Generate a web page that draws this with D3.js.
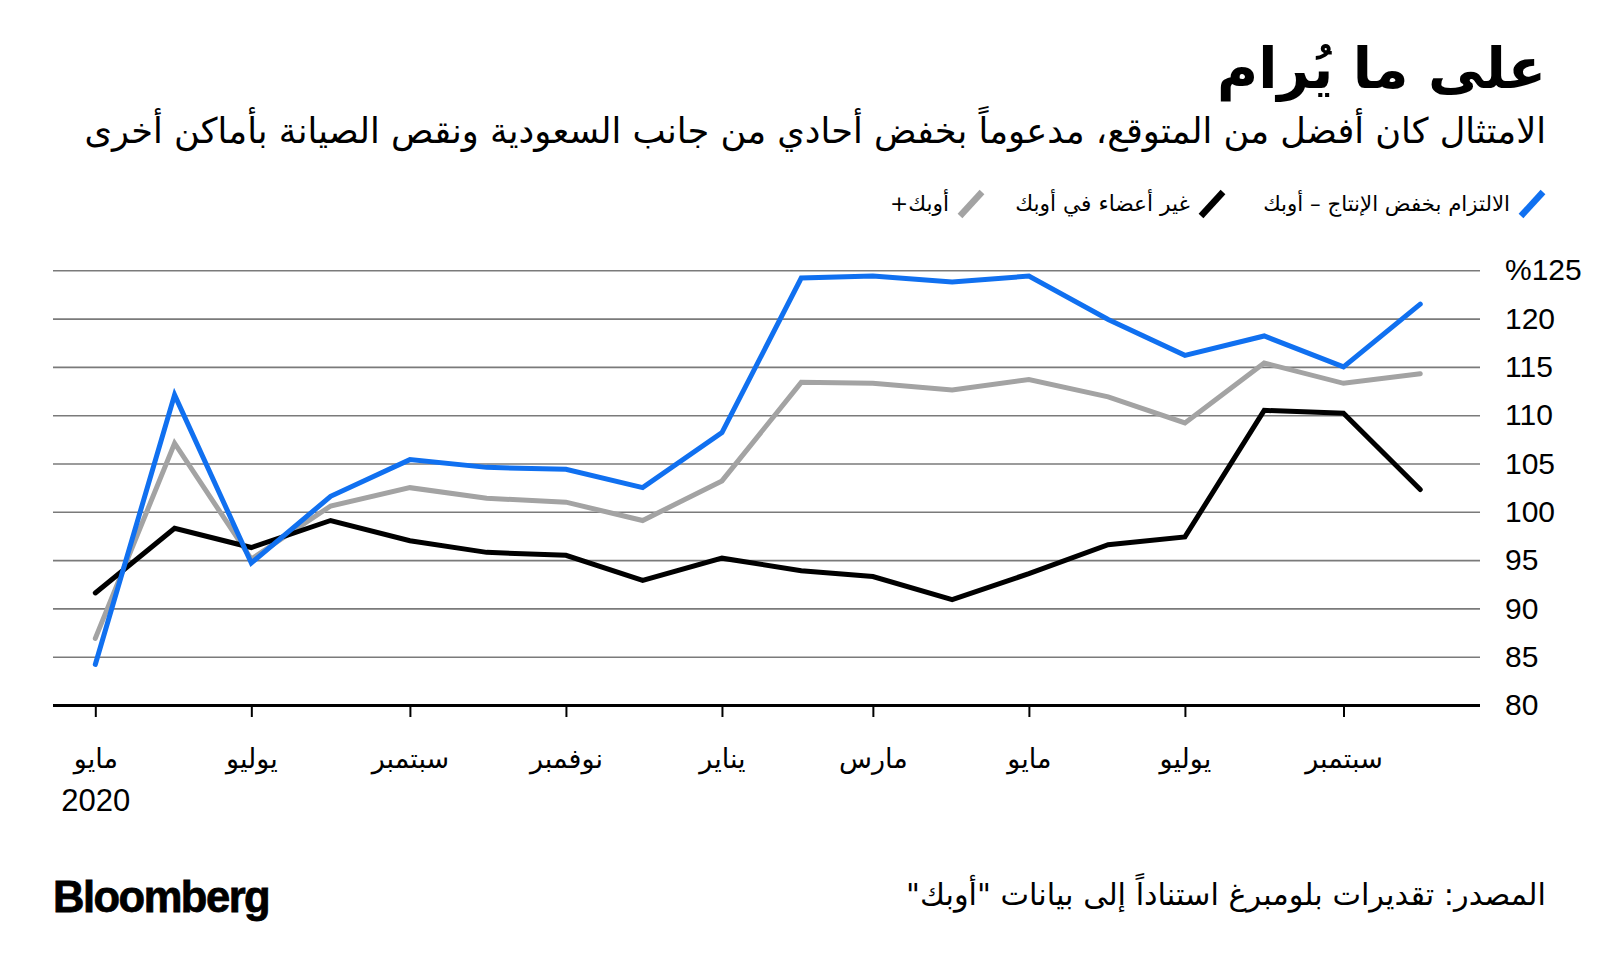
<!DOCTYPE html>
<html><head><meta charset="utf-8">
<script src="https://cdn.jsdelivr.net/npm/d3@7"></script>
<style>
html,body{margin:0;padding:0;background:#fff;}
svg{display:block;}
.ar{font-family:"DejaVu Sans",sans-serif;}
.num{font-family:"Liberation Sans",Arial,sans-serif;}
</style></head>
<body>
<script>
// ---- data ----
const months = ["2020-05","2020-06","2020-07","2020-08","2020-09","2020-10","2020-11","2020-12",
  "2021-01","2021-02","2021-03","2021-04","2021-05","2021-06","2021-07","2021-08","2021-09","2021-10"];
const opecCompliance = [84.2,112.1,94.7,101.6,105.4,104.6,104.4,102.5,108.2,124.2,124.4,123.8,124.4,119.9,116.2,118.2,115.0,121.5];
const nonOpec = [91.6,98.3,96.3,99.1,97.0,95.8,95.5,92.9,95.2,93.9,93.3,90.9,93.6,96.6,97.4,110.5,110.2,102.3];
const opecPlus = [86.9,107.1,95.1,100.6,102.5,101.4,101.0,99.1,103.2,113.4,113.3,112.6,113.7,111.9,109.2,115.4,113.3,114.3];
const seriesNames = ["الالتزام بخفض الإنتاج – أوبك","غير أعضاء في أوبك","أوبك+"];
const xTickMonths = ["2020-05","2020-07","2020-09","2020-11","2021-01","2021-03","2021-05","2021-07","2021-09"];
const xTickLabels = ["مايو","يوليو","سبتمبر","نوفمبر","يناير","مارس","مايو","يوليو","سبتمبر"];
const yTicks = [80,85,90,95,100,105,110,115,120,125];
const title = "على ما يُرام";
const subtitle = "الامتثال كان أفضل من المتوقع، مدعوماً بخفض أحادي من جانب السعودية ونقص الصيانة بأماكن أخرى";
const source = "المصدر: تقديرات بلومبرغ استناداً إلى بيانات \"أوبك\"";

const W = 1600, H = 976;
const colors = ["#1070f0","#000000","#a3a3a3"];
const parse = d3.timeParse("%Y-%m");

const svg = d3.select("body").append("svg").attr("width",W).attr("height",H);

function fit(sel, target){
  const node = sel.node();
  const fs = parseFloat(sel.attr("font-size"));
  const w = node.getComputedTextLength();
  if (w>0) sel.attr("font-size", (fs*target/w).toFixed(2));
}

// ---- scales ----
const x = d3.scaleTime().domain([parse("2020-05"), parse("2021-09")]).range([95.3, 1343.5]);
const y = d3.scaleLinear().domain([80,125]).range([705, 270.3]);
const gridLeft = 53, gridRight = 1480;

// ---- header ----
const t = svg.append("text").attr("class","ar").attr("x",1546).attr("y",88)
  .attr("direction","rtl").attr("text-anchor","start").attr("font-size",62).attr("font-weight","bold")
  .attr("fill","#000").text(title);
fit(t, 329);
const st = svg.append("text").attr("class","ar").attr("x",1546).attr("y",143)
  .attr("direction","rtl").attr("text-anchor","start").attr("font-size",30)
  .attr("fill","#000").text(subtitle);
fit(st, 1462);

// ---- legend ----
const legendRight = [1546, 1226, 985];
const legendTextW = [247, 175, 59];
[0,1,2].forEach(i=>{
  const xr = legendRight[i];
  svg.append("line").attr("x1",xr-25).attr("y1",216).attr("x2",xr-3).attr("y2",192)
    .attr("stroke",colors[i]).attr("stroke-width",6.5);
  const lt = svg.append("text").attr("class","ar").attr("x",xr-36).attr("y",211)
    .attr("direction","rtl").attr("text-anchor","start").attr("font-size",20)
    .attr("fill","#000").text(seriesNames[i]);
  fit(lt, legendTextW[i]);
});

// ---- y axis / grid ----
const yAxis = d3.axisRight(y).tickValues(yTicks).tickSize(-(gridRight-gridLeft)).tickPadding(25)
  .tickFormat(d => d===125 ? "%125" : String(d));
const gy = svg.append("g").attr("transform",`translate(${gridRight},0)`).call(yAxis);
gy.select(".domain").remove();
gy.selectAll(".tick line").attr("stroke","#7a7a7a").attr("stroke-width",1.6);
gy.selectAll(".tick text").attr("class","num").attr("font-size",30).attr("fill","#000")
  .attr("font-family","Liberation Sans, Arial, sans-serif");
gy.selectAll(".tick").filter(d=>d===80).select("line").attr("stroke","#000").attr("stroke-width",3.2);

// ---- x axis ----
const xAxis = d3.axisBottom(x).tickValues(xTickMonths.map(parse)).tickSize(12).tickPadding(14)
  .tickFormat((d,i)=>xTickLabels[i]);
const gx = svg.append("g").attr("transform",`translate(0,${y(80)})`).call(xAxis);
gx.select(".domain").remove();
gx.selectAll(".tick line").attr("stroke","#000").attr("stroke-width",2);
gx.selectAll(".tick text").attr("font-family","DejaVu Sans, sans-serif").attr("font-size",27)
  .attr("fill","#000").attr("direction","rtl").attr("y",63).attr("dy",0);
gx.selectAll(".tick").filter((d,i)=>i===0).append("text")
  .attr("y",106).attr("text-anchor","middle").attr("fill","#000")
  .attr("font-family","Liberation Sans, Arial, sans-serif").attr("font-size",31).text("2020");

// ---- lines ----
const line = d3.line().x((d,i)=>x(parse(months[i]))).y(d=>y(d));
const drawOrder = [[opecPlus,2],[nonOpec,1],[opecCompliance,0]];
drawOrder.forEach(([vals,ci])=>{
  svg.append("path").datum(vals).attr("d",line).attr("fill","none")
    .attr("stroke",colors[ci]).attr("stroke-width",5).attr("stroke-linejoin","miter")
    .attr("stroke-linecap","round");
});

// ---- footer ----
const bl = svg.append("text").attr("x",53).attr("y",912).attr("font-family","Liberation Sans, Arial, sans-serif")
  .attr("font-weight","bold").attr("font-size",40).attr("letter-spacing",-1.5).attr("fill","#000")
  .attr("stroke","#000").attr("stroke-width",0.8).text("Bloomberg");
fit(bl, 215);
const src = svg.append("text").attr("class","ar").attr("x",1546).attr("y",905)
  .attr("direction","rtl").attr("text-anchor","start").attr("font-size",26)
  .attr("fill","#000").text(source);
fit(src, 640);
</script>
</body></html>
